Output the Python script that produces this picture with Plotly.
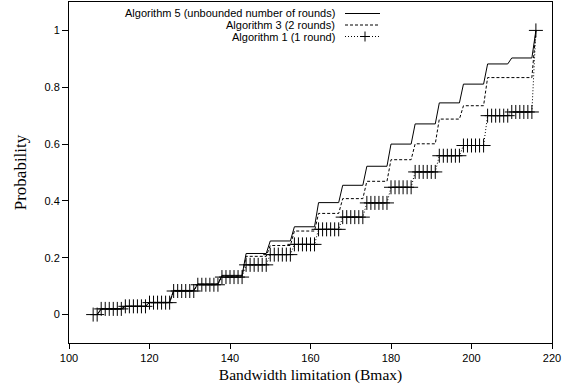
import plotly.graph_objects as go

# Bandwidth limit values (Bmax), one sample per integer
bandwidth = list(range(106, 217))

# Algorithm 5 (unbounded number of rounds)
prob_alg5 = [
    0.0, 0.0,
    0.020, 0.020, 0.020, 0.020, 0.020, 0.020,
    0.029, 0.029, 0.029, 0.029, 0.029, 0.029,
    0.043, 0.043, 0.043, 0.043, 0.043, 0.043,
    0.085, 0.085, 0.085, 0.085, 0.085, 0.085,
    0.108, 0.108, 0.108, 0.108, 0.108, 0.108,
    0.138, 0.138, 0.138, 0.138, 0.138, 0.138,
    0.215, 0.215, 0.215, 0.215, 0.215, 0.215,
    0.259, 0.259, 0.259, 0.259, 0.259, 0.259,
    0.309, 0.309, 0.309, 0.309, 0.309, 0.309,
    0.394, 0.394, 0.394, 0.394, 0.394, 0.394,
    0.455, 0.455, 0.455, 0.455, 0.455, 0.455,
    0.522, 0.522, 0.522, 0.522, 0.522, 0.522,
    0.600, 0.600, 0.600, 0.600, 0.600, 0.600,
    0.671, 0.671, 0.671, 0.671, 0.671, 0.671,
    0.745, 0.745, 0.745, 0.745, 0.745, 0.745,
    0.811, 0.811, 0.811, 0.811, 0.811, 0.811,
    0.882, 0.882, 0.882, 0.882, 0.882, 0.882,
    0.903, 0.903, 0.903, 0.903, 0.903, 0.903,
    1.0,
]

# Algorithm 3 (2 rounds)
prob_alg3 = [
    0.0, 0.0,
    0.020, 0.020, 0.020, 0.020, 0.020, 0.020,
    0.029, 0.029, 0.029, 0.029, 0.029, 0.029,
    0.043, 0.043, 0.043, 0.043, 0.043, 0.043,
    0.084, 0.084, 0.084, 0.084, 0.084, 0.084,
    0.107, 0.107, 0.107, 0.107, 0.107, 0.107,
    0.136, 0.136, 0.136, 0.136, 0.136, 0.136,
    0.205, 0.205, 0.205, 0.205, 0.205, 0.205,
    0.243, 0.243, 0.243, 0.243, 0.243, 0.243,
    0.294, 0.294, 0.294, 0.294, 0.294, 0.294,
    0.356, 0.356, 0.356, 0.356, 0.356, 0.356,
    0.408, 0.408, 0.408, 0.408, 0.408, 0.408,
    0.469, 0.469, 0.469, 0.469, 0.469, 0.469,
    0.545, 0.545, 0.545, 0.545, 0.545, 0.545,
    0.601, 0.601, 0.601, 0.601, 0.601, 0.601,
    0.688, 0.688, 0.688, 0.688, 0.688, 0.688,
    0.735, 0.735, 0.735, 0.735, 0.735, 0.735,
    0.834, 0.834, 0.834, 0.834, 0.834, 0.834,
    0.834, 0.834, 0.834, 0.834, 0.834, 0.834,
    1.0,
]

# Algorithm 1 (1 round)
prob_alg1 = [
    0.0, 0.0,
    0.020, 0.020, 0.020, 0.020, 0.020, 0.020,
    0.029, 0.029, 0.029, 0.029, 0.029, 0.029,
    0.042, 0.042, 0.042, 0.042, 0.042, 0.042,
    0.083, 0.083, 0.083, 0.083, 0.083, 0.083,
    0.105, 0.105, 0.105, 0.105, 0.105, 0.105,
    0.132, 0.132, 0.132, 0.132, 0.132, 0.132,
    0.175, 0.175, 0.175, 0.175, 0.175, 0.175,
    0.211, 0.211, 0.211, 0.211, 0.211, 0.211,
    0.247, 0.247, 0.247, 0.247, 0.247, 0.247,
    0.300, 0.300, 0.300, 0.300, 0.300, 0.300,
    0.343, 0.343, 0.343, 0.343, 0.343, 0.343,
    0.393, 0.393, 0.393, 0.393, 0.393, 0.393,
    0.448, 0.448, 0.448, 0.448, 0.448, 0.448,
    0.502, 0.502, 0.502, 0.502, 0.502, 0.502,
    0.559, 0.559, 0.559, 0.559, 0.559, 0.559,
    0.595, 0.595, 0.595, 0.595, 0.595, 0.595,
    0.700, 0.700, 0.700, 0.700, 0.700, 0.700,
    0.713, 0.713, 0.713, 0.713, 0.713, 0.713,
    1.0,
]

series_names = [
    "Algorithm 5 (unbounded number of rounds)",
    "Algorithm 3 (2 rounds)",
    "Algorithm 1 (1 round)",
]

x_ticks = [100, 120, 140, 160, 180, 200, 220]
y_ticks = [0, 0.2, 0.4, 0.6, 0.8, 1]

W, H = 574, 392
M_L, M_R, M_T, M_B = 69, 22, 2, 49
PW, PH = W - M_L - M_R, H - M_T - M_B

SANS = "Liberation Sans, Arial, Helvetica, sans-serif"
SERIF = "Liberation Serif, Times New Roman, serif"
INK = "#000000"

dash_styles = ["solid", "3px,2px", "1px,2px"]

fig = go.Figure()
fig.add_trace(go.Scatter(
    x=bandwidth, y=prob_alg5, mode="lines", name=series_names[0],
    line=dict(color=INK, width=1, dash=dash_styles[0]), showlegend=False,
))
fig.add_trace(go.Scatter(
    x=bandwidth, y=prob_alg3, mode="lines", name=series_names[1],
    line=dict(color=INK, width=1, dash=dash_styles[1]), showlegend=False,
))
fig.add_trace(go.Scatter(
    x=bandwidth, y=prob_alg1, mode="lines+markers", name=series_names[2],
    line=dict(color=INK, width=1, dash=dash_styles[2]),
    marker=dict(symbol="cross-thin", size=10, line=dict(color=INK, width=1)),
    showlegend=False,
))

# Key in the upper area: right-aligned labels with line samples to their right
def px_x(p):
    return (p - M_L) / PW

def px_y(p):
    return 1 - (p - M_T) / PH

key_rows_py = [13.5, 25.0, 36.5]
text_right = 337
samp_l, samp_r = 345, 380
for i, name in enumerate(series_names):
    yy = px_y(key_rows_py[i])
    fig.add_annotation(
        x=px_x(text_right), y=yy, xref="paper", yref="paper",
        text=name, showarrow=False, xanchor="right", yanchor="middle",
        font=dict(family=SANS, size=11, color=INK),
    )
    fig.add_shape(
        type="line", xref="paper", yref="paper",
        x0=px_x(samp_l), x1=px_x(samp_r), y0=yy, y1=yy,
        line=dict(color=INK, width=1, dash=dash_styles[i]),
    )
# marker glyph for the third key entry
cx, cy = 365, key_rows_py[2]
fig.add_shape(type="line", xref="paper", yref="paper",
              x0=px_x(cx - 5), x1=px_x(cx + 5), y0=px_y(cy), y1=px_y(cy),
              line=dict(color=INK, width=1))
fig.add_shape(type="line", xref="paper", yref="paper",
              x0=px_x(cx), x1=px_x(cx), y0=px_y(cy - 5), y1=px_y(cy + 5),
              line=dict(color=INK, width=1))

fig.update_layout(
    width=W, height=H,
    margin=dict(l=M_L, r=M_R, t=M_T, b=M_B),
    paper_bgcolor="white", plot_bgcolor="white",
    showlegend=False,
)
fig.update_xaxes(
    range=[100, 220], tickvals=x_ticks, ticks="outside", ticklen=5,
    tickcolor=INK, showline=True, linecolor=INK, linewidth=1, mirror=True,
    showgrid=False, zeroline=False,
    tickfont=dict(family=SANS, size=11, color=INK),
    title=dict(text="Bandwidth limitation (Bmax)", standoff=5,
               font=dict(family=SERIF, size=15.5, color=INK)),
)
fig.update_yaxes(
    range=[-0.1, 1.1], tickvals=y_ticks, ticks="outside", ticklen=6,
    tickcolor=INK, showline=True, linecolor=INK, linewidth=1, mirror=True,
    showgrid=False, zeroline=False,
    tickfont=dict(family=SANS, size=11, color=INK),
    title=dict(text="Probability", standoff=13,
               font=dict(family=SERIF, size=17, color=INK)),
)

fig.write_html("out.html")
